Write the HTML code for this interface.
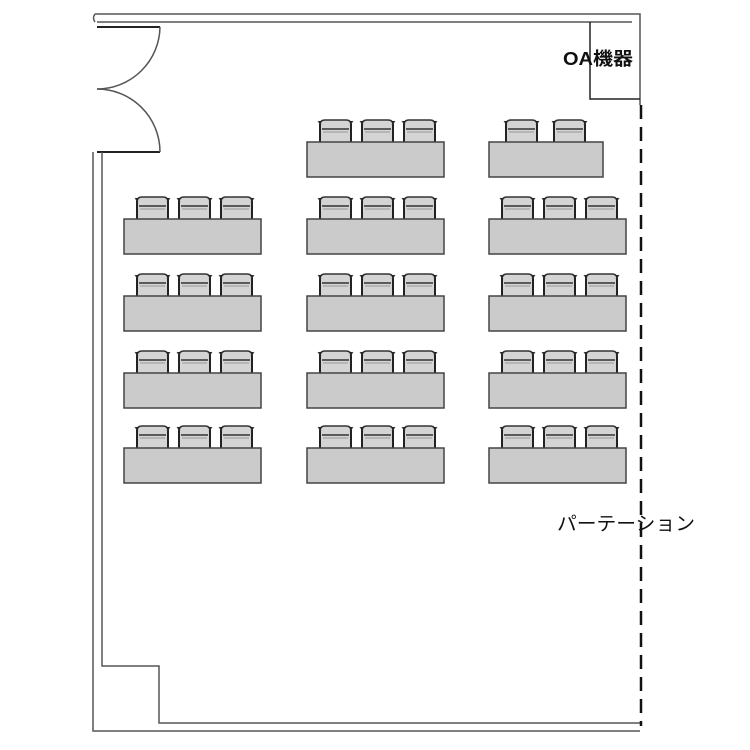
<!DOCTYPE html>
<html><head><meta charset="utf-8"><style>html,body{margin:0;padding:0;background:#fff}svg{display:block}</style></head>
<body>
<svg width="750" height="750" viewBox="0 0 750 750" xmlns="http://www.w3.org/2000/svg">
<defs>
<g id="ch">
<path d="M1 23 V6 Q1 1 6 1 H27 Q32 1 32 6 V23" fill="#d4d4d4" stroke="#333" stroke-width="1.5"/>
<line x1="3" y1="10" x2="30" y2="10" stroke="#333" stroke-width="1.5"/>
<line x1="4" y1="13" x2="29" y2="13" stroke="#999" stroke-width="1"/>
<line x1="1" y1="2" x2="1" y2="23" stroke="#222" stroke-width="2"/>
<line x1="32" y1="2" x2="32" y2="23" stroke="#222" stroke-width="2"/>
<line x1="-1" y1="2" x2="2" y2="6" stroke="#333" stroke-width="1"/>
<line x1="34" y1="2" x2="31" y2="6" stroke="#333" stroke-width="1"/>
</g>
<g id="d3">
<use href="#ch" x="12" y="-23"/><use href="#ch" x="54" y="-23"/><use href="#ch" x="96" y="-23"/>
<rect x="0" y="0" width="137" height="35" fill="#cbcbcb" stroke="#444" stroke-width="1.5"/>
</g>
</defs>
<g fill="none" stroke="#555" stroke-width="1.5">
<path d="M95 14 H640 V105"/>
<path d="M97 22 H632"/>
<path d="M95 14 Q92 18 95 22"/>
<path d="M97 27 H160" stroke="#222" stroke-width="2"/>
<path d="M97 152 H160" stroke="#222" stroke-width="2"/>
<path d="M160 27 A63 63 0 0 1 97 89"/>
<path d="M97 89 A63 63 0 0 1 160 152"/>
<path d="M93 152 V731 H640"/>
<path d="M102 152 V666 H159 V723 H640"/>
<path d="M590 22 V99 H640" stroke="#222"/>
</g>
<line x1="641" y1="105" x2="641" y2="726" stroke="#111" stroke-width="2.5" stroke-dasharray="14,8"/>
<text x="563" y="65" textLength="70" lengthAdjust="spacingAndGlyphs" font-family="Liberation Sans, Noto Sans CJK JP, sans-serif" font-size="18" font-weight="bold" fill="#111">OA機器</text>
<text x="557" y="530" textLength="138" lengthAdjust="spacingAndGlyphs" font-family="Liberation Sans, Noto Sans CJK JP, sans-serif" font-size="19" fill="#111">パーテーション</text>
<use href="#d3" x="307" y="142"/>
<g transform="translate(489,142)">
<use href="#ch" x="16" y="-23"/><use href="#ch" x="64" y="-23"/>
<rect x="0" y="0" width="114" height="35" fill="#cbcbcb" stroke="#444" stroke-width="1.5"/>
</g>
<use href="#d3" x="124" y="219"/><use href="#d3" x="307" y="219"/><use href="#d3" x="489" y="219"/>
<use href="#d3" x="124" y="296"/><use href="#d3" x="307" y="296"/><use href="#d3" x="489" y="296"/>
<use href="#d3" x="124" y="373"/><use href="#d3" x="307" y="373"/><use href="#d3" x="489" y="373"/>
<use href="#d3" x="124" y="448"/><use href="#d3" x="307" y="448"/><use href="#d3" x="489" y="448"/>
</svg>
</body></html>
